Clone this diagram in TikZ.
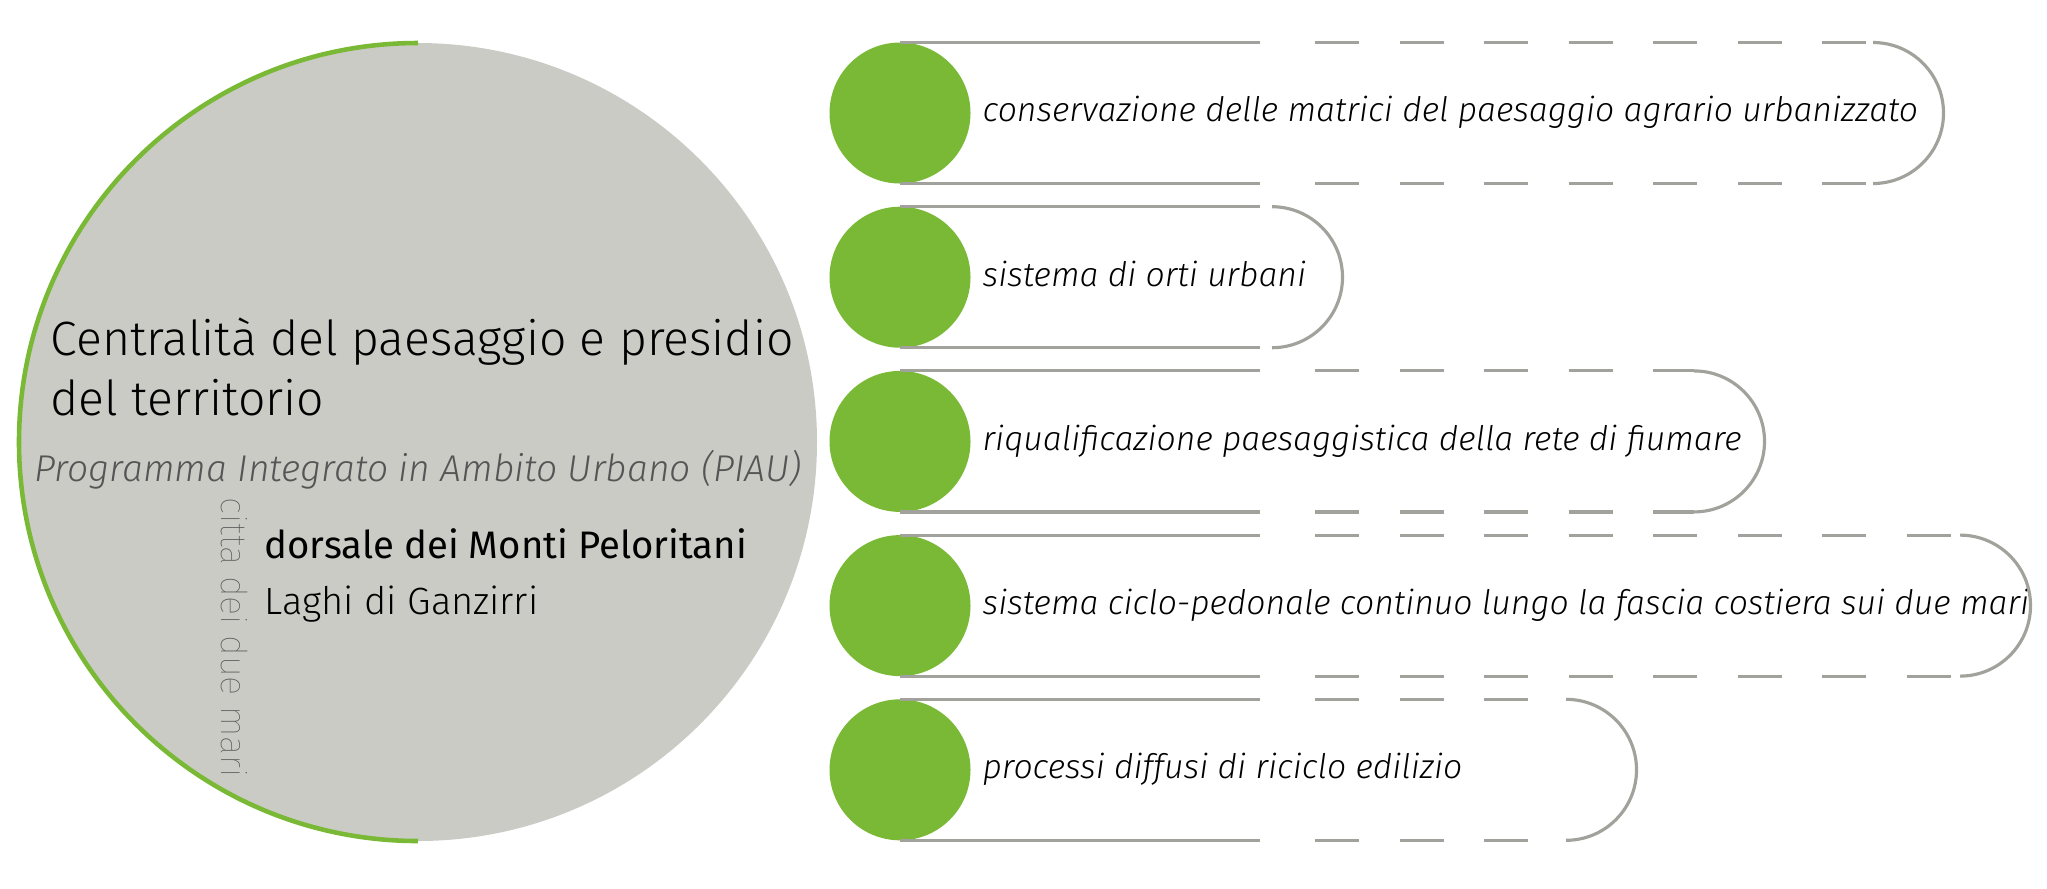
\documentclass[tikz,border=0pt]{standalone}
\usepackage{fontspec}
\setmainfont{Fira Sans}[UprightFont=* Light, ItalicFont=* Light Italic, BoldFont=* Medium]
\newfontfamily\thinfont{Fira Sans Thin}
\newfontfamily\regfont{Fira Sans}
\usetikzlibrary{positioning}
\definecolor{verde}{HTML}{7AB935}
\definecolor{grigio}{HTML}{CBCBC6}
\definecolor{bordo}{HTML}{A2A29D}
\definecolor{testo}{HTML}{555555}
\tikzset{
  dot/.style={circle,fill=verde,minimum size=1.41cm,inner sep=0pt,outer sep=0pt},
  item/.style={anchor=west,inner sep=0pt,text height=7pt,text depth=2pt,font=\fontsize{9.6}{12}\selectfont\itshape},
  rim/.style={draw=bordo,line width=0.9pt},
  dashrim/.style={rim,dash pattern=on 0.44cm off 0.405cm},
}
\begin{document}
\begin{tikzpicture}
   \useasboundingbox (0,-8.88) rectangle (20.47,0);
   % 大きい円
   \node [circle,fill=grigio,minimum size=7.98cm,inner sep=0pt,outer sep=0pt] (c) at (4.18,-4.42) {};
   \draw [verde,line width=1.3pt] (c.north) arc[start angle=90,end angle=270,radius=3.99cm];
   \node [anchor=base west,inner sep=0pt,font=\fontsize{13.7}{17}\selectfont] (title1) at (0.50,-3.556) {Centralità del paesaggio e presidio};
   \node [anchor=base west,inner sep=0pt,font=\fontsize{13.7}{17}\selectfont] (title2) at (0.50,-4.15) {del territorio};
   \node [anchor=base west,inner sep=0pt,text=testo,font=\fontsize{10.6}{12}\selectfont\itshape] (piau) at (0.336,-4.81) {Programma Integrato in Ambito Urbano (PIAU)};
   \node [anchor=base west,inner sep=0pt,rotate=-90,text=testo,font=\thinfont\fontsize{10.2}{12}\selectfont] (citta) at (2.21,-4.97) {citta dei due mari};
   \node [anchor=base west,inner sep=0pt,font=\regfont\fontsize{10.9}{12}\selectfont] (dorsale) at (2.64,-5.58) {dorsale dei Monti Peloritani};
   \node [anchor=base west,inner sep=0pt,font=\fontsize{10.8}{12}\selectfont] (laghi) at (2.64,-6.14) {Laghi di Ganzirri};

   % 項目 1
   \node [dot] (b1) at (9.00,-1.13) {};
   \node [item,right=0.115cm of b1] (t1) {conservazione delle matrici del paesaggio agrario urbanizzato};
   \coordinate (e1) at (18.73,-1.13);
   \draw [rim] (b1.north) -- ++(3.6,0) (b1.south) -- ++(3.6,0);
   \draw [dashrim] ([xshift=4.15cm]b1.north) -- (e1 |- b1.north) ([xshift=4.15cm]b1.south) -- (e1 |- b1.south);
   \draw [rim] (e1 |- b1.north) arc[start angle=90,end angle=-90,radius=0.705cm];

   % 項目 2
   \node [dot] (b2) at (9.00,-2.772) {};
   \node [item,right=0.115cm of b2] (t2) {sistema di orti urbani};
   \coordinate (e2) at (12.72,-2.772);
   \draw [rim] (b2.north) -- ++(3.6,0) (b2.south) -- ++(3.6,0);
   \draw [rim] (e2 |- b2.north) arc[start angle=90,end angle=-90,radius=0.705cm];

   % 項目 3
   \node [dot] (b3) at (9.00,-4.414) {};
   \node [item,right=0.115cm of b3] (t3) {riqualificazione paesaggistica della rete di fiumare};
   \coordinate (e3) at (16.94,-4.414);
   \draw [rim] (b3.north) -- ++(3.6,0) (b3.south) -- ++(3.6,0);
   \draw [dashrim] ([xshift=4.15cm]b3.north) -- (e3 |- b3.north) ([xshift=4.15cm]b3.south) -- (e3 |- b3.south);
   \draw [rim] (e3 |- b3.north) arc[start angle=90,end angle=-90,radius=0.705cm];

   % 項目 4
   \node [dot] (b4) at (9.00,-6.056) {};
   \node [item,right=0.115cm of b4] (t4) {sistema ciclo-pedonale continuo lungo la fascia costiera sui due mari};
   \coordinate (e4) at (19.60,-6.056);
   \draw [rim] (b4.north) -- ++(3.6,0) (b4.south) -- ++(3.6,0);
   \draw [dashrim] ([xshift=4.15cm]b4.north) -- (e4 |- b4.north) ([xshift=4.15cm]b4.south) -- (e4 |- b4.south);
   \draw [rim] (e4 |- b4.north) arc[start angle=90,end angle=-90,radius=0.705cm];

   % 項目 5
   \node [dot] (b5) at (9.00,-7.698) {};
   \node [item,right=0.115cm of b5] (t5) {processi diffusi di riciclo edilizio};
   \coordinate (e5) at (15.66,-7.698);
   \draw [rim] (b5.north) -- ++(3.6,0) (b5.south) -- ++(3.6,0);
   \draw [dashrim] ([xshift=4.15cm]b5.north) -- (e5 |- b5.north) ([xshift=4.15cm]b5.south) -- (e5 |- b5.south);
   \draw [rim] (e5 |- b5.north) arc[start angle=90,end angle=-90,radius=0.705cm];
\end{tikzpicture}
\end{document}
